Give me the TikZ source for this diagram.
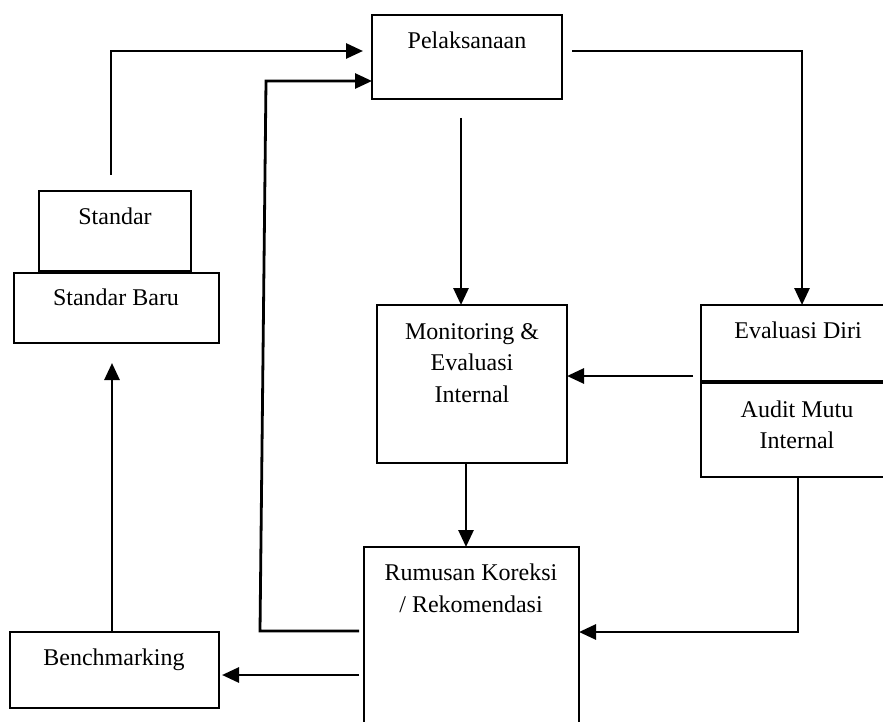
\documentclass[tikz,border=0pt]{standalone}
\usepackage{fontspec}
\setmainfont{Liberation Serif}
\usetikzlibrary{arrows.meta}
\begin{document}
\begin{tikzpicture}[x=1pt,y=-1pt,
  box/.style={draw, line width=2.4pt, inner sep=0pt, outer sep=0pt},
  conn/.style={line width=2.8pt, -{Triangle[length=17pt,width=15pt]}},
  lbl/.style={font=\fontsize{24}{30}\selectfont, anchor=base, inner sep=0pt}]
  % canvas
  \fill[white] (0,0) rectangle (883,722);
  \clip (0,0) rectangle (883,722);

  % boxes
  \node[box, minimum width=190pt, minimum height=84pt]  (pel)   at (467,57) {};
  \node[box, minimum width=152pt, minimum height=80pt]  (std)   at (115,231) {};
  \node[box, minimum width=205pt, minimum height=70pt]  (stdb)  at (116.5,308) {};
  \node[box, minimum width=190pt, minimum height=158pt] (mon)   at (472,384) {};
  \node[box, minimum width=199pt, minimum height=76pt]  (eval)  at (800.5,343) {};
  \node[box, minimum width=199pt, minimum height=94pt]  (audit) at (800.5,430) {};
  \node[box, minimum width=215pt, minimum height=223pt] (rum)   at (471.5,658.5) {};
  \node[box, minimum width=209pt, minimum height=76pt]  (bench) at (114.5,670) {};

  % texts
  \node[lbl] (tpel)   at (467,49)  {Pelaksanaan};
  \node[lbl] (tstd)   at (115,225) {Standar};
  \node[lbl] (tstdb)  at (116,305) {Standar Baru};
  \node[lbl] (tmon1)  at (472,339) {Monitoring \&};
  \node[lbl] (tmon2)  at (472,370) {Evaluasi};
  \node[lbl] (tmon3)  at (472,402) {Internal};
  \node[lbl] (teval)  at (798,338) {Evaluasi Diri};
  \node[lbl] (taud1)  at (797,417) {Audit Mutu};
  \node[lbl] (taud2)  at (797,448) {Internal};
  \node[lbl] (trum1)  at (471,580) {Rumusan Koreksi};
  \node[lbl] (trum2)  at (471,612) {/ Rekomendasi};
  \node[lbl] (tbench) at (114,665) {Benchmarking};

  % bend points
  \coordinate (b1) at (111,51);
  \coordinate (c1) at (260,631);
  \coordinate (c2) at (266,81);
  \coordinate (d1) at (802,51);
  \coordinate (e1) at (461,118);
  \coordinate (e2) at (466,0);
  \coordinate (f1) at (693,376);
  \coordinate (g1) at (798,632);
  \coordinate (h1) at (359,675);
  \coordinate (k1) at (112,0);

  % connectors
  \draw[conn, shorten <=16pt, shorten >=9pt] (std.north -| b1) -- (b1) -- (pel.west |- b1);
  \draw[conn, shorten <=5pt] (rum.west |- c1) -- (c1) -- (c2) -- (pel.west |- c2);
  \draw[conn, shorten <=10pt] (pel.east |- d1) -- (d1) -- (eval.north -| d1);
  \draw[conn] (e1) -- (mon.north -| e1);
  \draw[conn] (mon.south -| e2) -- (rum.north -| e2);
  \draw[conn] (f1) -- (mon.east |- f1);
  \draw[conn] (audit.south -| g1) -- (g1) -- (rum.east |- g1);
  \draw[conn, shorten >=3pt] (h1) -- (bench.east |- h1);
  \draw[conn, shorten >=20pt] (bench.north -| k1) -- (stdb.south -| k1);
\end{tikzpicture}
\end{document}
